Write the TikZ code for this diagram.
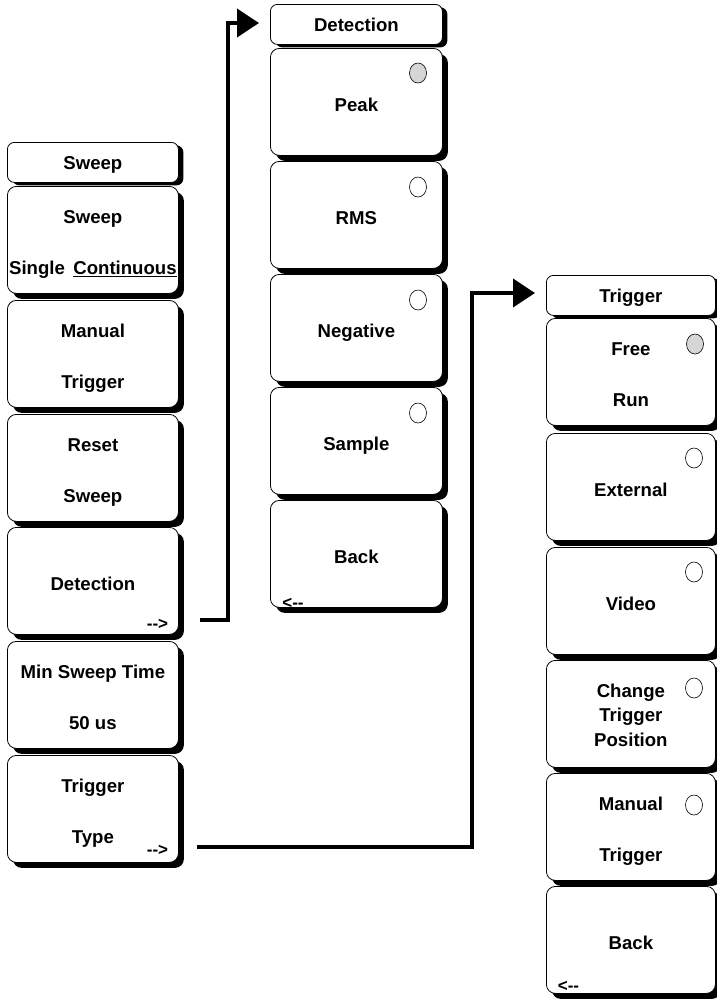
\documentclass[tikz,border=0pt]{standalone}
\usepackage{fontspec}
\setmainfont{Liberation Sans}
\usetikzlibrary{shadows,arrows.meta,shapes.geometric}
\newcommand\keyfont{\fontsize{18.6}{51}\selectfont\bfseries}
\newcommand\tightfont{\fontsize{18.6}{24.5}\selectfont\bfseries}
\newcommand\tagfont{\fontsize{17}{17}\selectfont\bfseries}
\begin{document}
\begin{tikzpicture}[x=1pt,y=-1pt,
  keybase/.style={draw=black, line width=0.8pt, fill=white, inner sep=0pt,
    anchor=north west, align=center, font=\keyfont,
    text height=19pt, text depth=0pt},
  softkey/.style={keybase, rounded corners=9pt, minimum height=107pt,
    drop shadow={shadow xshift=5.5pt, shadow yshift=-5.5pt, fill=black, opacity=1}},
  twoline/.style={text height=70pt},
  threeline/.style={font=\tightfont, text height=65pt},
  menutitle/.style={keybase, rounded corners=7pt, minimum height=40pt,
    text height=13.4pt,
    drop shadow={shadow xshift=5pt, shadow yshift=-3pt, fill=black, opacity=1}},
  colA/.style={minimum width=171pt},
  colB/.style={minimum width=172pt},
  colC/.style={minimum width=169pt},
  radio/.style={ellipse, draw=black, line width=0.6pt, fill=white,
    minimum width=17pt, minimum height=20pt, inner sep=0pt},
  radioon/.style={radio, fill=black!16},
  tag/.style={font=\tagfont, inner sep=0pt},
  conn/.style={line width=4pt, -{Triangle[length=22pt,width=28pt]}}
]
\useasboundingbox (0,0) rectangle (717,999);

% Sweep menu
\node[menutitle, colA] (swHead) at (7,142) {Sweep};
\node[softkey, colA, twoline] (swSweep) at (7,186) {Sweep\\Single\hspace{0.45em}\underline{Continuous}};
\node[softkey, colA, twoline] (swManual) at (7,300) {Manual\\Trigger};
\node[softkey, colA, twoline] (swReset) at (7,414) {Reset\\Sweep};
\node[softkey, colA] (swDetect) at (7,527) {Detection};
\node[softkey, colA, twoline] (swMin) at (7,641) {Min Sweep Time\\50 us};
\node[softkey, colA, twoline] (swTrig) at (7,755) {Trigger\\Type};
\node[tag] (swDetectTag) at (157.5,624) {-{}->};
\node[tag] (swTrigTag) at (157.5,850) {-{}->};

% Detection menu
\node[menutitle, colB] (dtHead) at (270,4) {Detection};
\node[softkey, colB] (dtPeak) at (270,48) {Peak};
\node[softkey, colB] (dtRMS) at (270,161) {RMS};
\node[softkey, colB] (dtNeg) at (270,274) {Negative};
\node[softkey, colB] (dtSample) at (270,387) {Sample};
\node[softkey, colB] (dtBack) at (270,500) {Back};
\node[tag] (dtBackTag) at (293,603) {<-{}-};
\node[radioon] (dtPeakR) at (418,73) {};
\node[radio] (dtRMSR) at (418,187) {};
\node[radio] (dtNegR) at (418,300) {};
\node[radio] (dtSampleR) at (418,413) {};

% Trigger menu
\node[menutitle, colC] (tgHead) at (546,275) {Trigger};
\node[softkey, colC, twoline] (tgFree) at (546,318) {Free\\Run};
\node[softkey, colC] (tgExt) at (546,433) {External};
\node[softkey, colC] (tgVideo) at (546,547) {Video};
\node[softkey, colC, threeline] (tgChange) at (546,660) {Change\\Trigger\\Position};
\node[softkey, colC, twoline] (tgManual) at (546,773) {Manual\\Trigger};
\node[softkey, colC] (tgBack) at (546,886) {Back};
\node[tag] (tgBackTag) at (568.5,986) {<-{}-};
\node[radioon] (tgFreeR) at (695,344) {};
\node[radio] (tgExtR) at (694,458) {};
\node[radio] (tgVideoR) at (694,572) {};
\node[radio] (tgChangeR) at (694,688) {};
\node[radio] (tgManualR) at (694,805) {};

% Connectors to the sub-menus
\coordinate (detFrom) at (200,620);
\coordinate (detTo) at (259,23);
\draw[conn] (detFrom) -- (228,620) -- (228,23) -- (detTo);
\coordinate (trgFrom) at (197,847);
\coordinate (trgTo) at (535,293);
\draw[conn] (trgFrom) -- (472,847) -- (472,293) -- (trgTo);
\end{tikzpicture}
\end{document}
